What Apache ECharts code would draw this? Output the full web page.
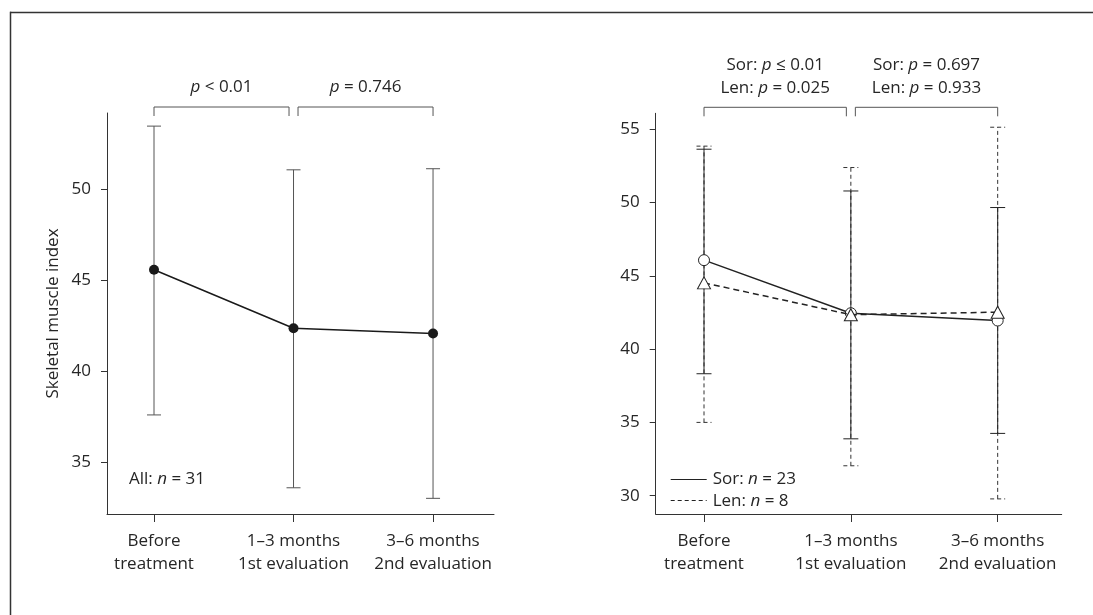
<!DOCTYPE html>
<html><head><meta charset="utf-8">
<script src="https://cdn.jsdelivr.net/npm/echarts@6/dist/echarts.min.js"></script>
<style>html,body{margin:0;padding:0;background:#fff;overflow:hidden}#c{width:1093px;height:615px}</style>
</head><body><div id="c"></div>
<script>
// ---- data ----
const categories = ['Before\ntreatment', '1\u20133 months\n1st evaluation', '3\u20136 months\n2nd evaluation'];
const catX = [1, 2, 3];
const leftTicks = [35, 40, 45, 50];
const rightTicks = [30, 35, 40, 45, 50, 55];

const allMean = [45.57, 42.36, 42.07];
const allLow  = [37.6, 33.6, 33.02];
const allHigh = [53.46, 51.06, 51.12];

const sorMean = [46.07, 42.45, 41.95];
const sorLow  = [38.32, 33.88, 34.25];
const sorHigh = [53.64, 50.79, 49.66];

const lenMean = [44.52, 42.35, 42.52];
const lenLow  = [35.0, 32.04, 29.78];
const lenHigh = [53.85, 52.39, 55.14];

const bracketPairs = [[1, 2], [2, 3]];
const leftPLabels  = ['{i|p} < 0.01', '{i|p} = 0.746'];
const rightPLabels = ['Sor: {i|p} \u2264 0.01\nLen: {i|p} = 0.025', 'Sor: {i|p} = 0.697\nLen: {i|p} = 0.933'];

const allLabel = 'All: {i|n} = 31';
const sorLabel = 'Sor: {i|n} = 23';
const lenLabel = 'Len: {i|n} = 8';

// ---- styling ----
const FONT = '"Open Sans", "Noto Sans", sans-serif';
const TXT = '#262626';
const AX = '#333';
const FS = 17;
const rich = { i: { fontStyle: 'italic', fontFamily: FONT, fontSize: FS, fill: TXT, color: TXT } };

function errRender(halfCap, color, dash) {
  return function (params, api) {
    const x = api.value(0), lo = api.value(1), hi = api.value(2);
    const a = api.coord([x, lo]), b = api.coord([x, hi]);
    const style = { stroke: color, lineWidth: 1, lineDash: dash, fill: null };
    return { type: 'group', children: [
      { type: 'line', shape: { x1: a[0], y1: a[1], x2: b[0], y2: b[1] }, style: style },
      { type: 'line', shape: { x1: b[0] - halfCap, y1: b[1], x2: b[0] + halfCap, y2: b[1] }, style: style },
      { type: 'line', shape: { x1: a[0] - halfCap, y1: a[1], x2: a[0] + halfCap, y2: a[1] }, style: style }
    ]};
  };
}

function bracketRender(labels) {
  return function (params, api) {
    const x1 = api.value(0), x2 = api.value(1);
    const top = params.coordSys.y;
    const p1 = api.coord([x1, 40]), p2 = api.coord([x2, 40]);
    const gap = 4.5;
    const l = x1 === 1 ? p1[0] : p1[0] + gap;
    const r = x2 === 3 ? p2[0] : p2[0] - gap;
    const yb = top - 6, yd = top + 3;
    const st = { stroke: '#555', lineWidth: 1, fill: null };
    return { type: 'group', children: [
      { type: 'polyline', shape: { points: [[l, yd], [l, yb], [r, yb], [r, yd]] }, style: st },
      { type: 'text', style: {
          text: labels[params.dataIndex], x: (l + r) / 2, y: yb - 8,
          align: 'center', verticalAlign: 'bottom',
          fontFamily: FONT, fontSize: FS, fill: TXT, lineHeight: 23, rich: rich } }
    ]};
  };
}

function zip3(a, b, c) { return catX.map((x, i) => [x, b[i], c[i]]); }
function pts(m) { return catX.map((x, i) => [x, m[i]]); }

function xAxis(idx) {
  return {
    type: 'value', gridIndex: idx, min: idx === 0 ? 0.663 : 0.671, max: idx === 0 ? 3.437 : 3.436,
    axisLine: { show: true, onZero: false, lineStyle: { color: AX, width: 1 } },
    axisTick: { show: true, customValues: catX, length: 8, lineStyle: { color: AX } },
    axisLabel: { show: true, customValues: catX, formatter: v => categories[Math.round(v) - 1],
      fontFamily: FONT, fontSize: FS, color: TXT, lineHeight: 22.5, margin: 16 },
    splitLine: { show: false }
  };
}
function yAxis(idx, min, max, ticks, name) {
  return {
    type: 'value', gridIndex: idx, min: min, max: max,
    name: name || '', nameLocation: 'middle', nameGap: 45, nameRotate: 90,
    nameTextStyle: { fontFamily: FONT, fontSize: FS, color: TXT },
    axisLine: { show: true, onZero: false, lineStyle: { color: AX, width: 1 } },
    axisTick: { show: true, customValues: ticks, length: 6, lineStyle: { color: AX } },
    axisLabel: { show: true, customValues: ticks, fontFamily: FONT, fontSize: FS, color: TXT, margin: 16 },
    splitLine: { show: false }
  };
}

const chart = echarts.init(document.getElementById('c'), null, { renderer: 'canvas' });
chart.setOption({
  animation: false,
  backgroundColor: '#fff',
  grid: [
    { left: 107, top: 113, width: 387, height: 401, outerBoundsMode: 'none', containLabel: false },
    { left: 655.7, top: 113.3, width: 406, height: 400.7, outerBoundsMode: 'none', containLabel: false }
  ],
  xAxis: [xAxis(0), xAxis(1)],
  yAxis: [yAxis(0, 32.16, 54.18, leftTicks, 'Skeletal muscle index'), yAxis(1, 28.75, 56.09, rightTicks)],
  series: [
    { type: 'custom', xAxisIndex: 0, yAxisIndex: 0, clip: false, silent: true, z: 1,
      renderItem: errRender(7, '#555', null), data: zip3(allMean, allLow, allHigh) },
    { type: 'line', xAxisIndex: 0, yAxisIndex: 0, silent: true, z: 3, data: pts(allMean),
      symbol: 'circle', symbolSize: 10, itemStyle: { color: '#1a1a1a' },
      lineStyle: { color: '#1a1a1a', width: 1.5 } },
    { type: 'custom', xAxisIndex: 0, yAxisIndex: 0, clip: false, silent: true, z: 2,
      renderItem: bracketRender(leftPLabels), data: bracketPairs },

    { type: 'custom', xAxisIndex: 1, yAxisIndex: 1, clip: false, silent: true, z: 1,
      renderItem: errRender(7.5, '#333', [4, 3]), data: zip3(lenMean, lenLow, lenHigh) },
    { type: 'custom', xAxisIndex: 1, yAxisIndex: 1, clip: false, silent: true, z: 1,
      renderItem: errRender(7.5, '#222', null), data: zip3(sorMean, sorLow, sorHigh) },
    { type: 'line', xAxisIndex: 1, yAxisIndex: 1, silent: true, z: 3, data: pts(sorMean),
      symbol: 'circle', symbolSize: 11, itemStyle: { color: '#fff', borderColor: '#222', borderWidth: 1 },
      lineStyle: { color: '#222', width: 1.5 } },
    { type: 'line', xAxisIndex: 1, yAxisIndex: 1, silent: true, z: 4, data: pts(lenMean),
      symbol: 'triangle', symbolSize: [13, 12], itemStyle: { color: '#fff', borderColor: '#222', borderWidth: 1 },
      lineStyle: { color: '#222', width: 1.5, type: [6, 4] } },
    { type: 'custom', xAxisIndex: 1, yAxisIndex: 1, clip: false, silent: true, z: 2,
      renderItem: bracketRender(rightPLabels), data: bracketPairs }
  ],
  graphic: [
    { type: 'rect', shape: { x: 10, y: 11.75, width: 1200, height: 1.5 },
      style: { fill: '#333', stroke: null }, silent: true },
    { type: 'rect', shape: { x: 9.75, y: 11.75, width: 1.5, height: 700 },
      style: { fill: '#333', stroke: null }, silent: true },
    { type: 'text', x: 129, y: 479, style: { text: allLabel, fontFamily: FONT, fontSize: FS, fill: TXT,
      verticalAlign: 'middle', rich: rich } },
    { type: 'line', shape: { x1: 670.7, y1: 479.5, x2: 706.7, y2: 479.5 }, style: { stroke: '#222', lineWidth: 1.2 } },
    { type: 'text', x: 712.7, y: 479.3, style: { text: sorLabel, fontFamily: FONT, fontSize: FS, fill: TXT,
      verticalAlign: 'middle', rich: rich } },
    { type: 'line', shape: { x1: 670.7, y1: 500.5, x2: 706.7, y2: 500.5 }, style: { stroke: '#222', lineWidth: 1.2, lineDash: [4, 3] } },
    { type: 'text', x: 712.7, y: 500.7, style: { text: lenLabel, fontFamily: FONT, fontSize: FS, fill: TXT,
      verticalAlign: 'middle', rich: rich } }
  ]
});
</script></body></html>
